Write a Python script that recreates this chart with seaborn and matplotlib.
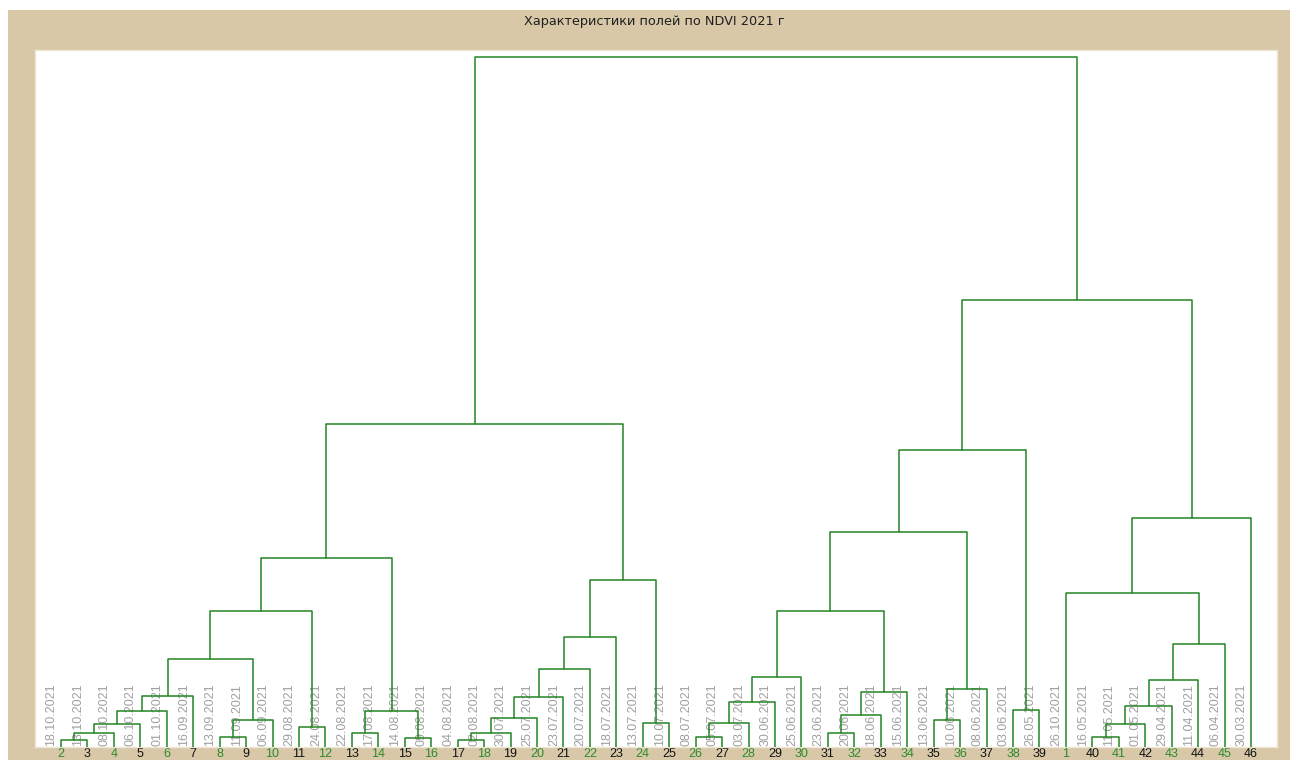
import matplotlib
matplotlib.use("Agg")
import matplotlib.pyplot as plt
from matplotlib.patches import Rectangle
import pandas as pd
import seaborn as sns

# Leaf order along the x axis (field numbers) and the NDVI survey date of each leaf
leaf_ids = [2, 3, 4, 5, 6, 7, 8, 9, 10, 11, 12, 13, 14, 15, 16, 17, 18, 19, 20,
            21, 22, 23, 24, 25, 26, 27, 28, 29, 30, 31, 32, 33, 34, 35, 36, 37,
            38, 39, 1, 40, 41, 42, 43, 44, 45, 46]
leaf_dates = ["18.10.2021", "13.10.2021", "08.10.2021", "06.10.2021", "01.10.2021",
              "16.09.2021", "13.09.2021", "11.09.2021", "06.09.2021", "29.08.2021",
              "24.08.2021", "22.08.2021", "17.08.2021", "14.08.2021", "09.08.2021",
              "04.08.2021", "02.08.2021", "30.07.2021", "25.07.2021", "23.07.2021",
              "20.07.2021", "18.07.2021", "13.07.2021", "10.07.2021", "08.07.2021",
              "05.07.2021", "03.07.2021", "30.06.2021", "25.06.2021", "23.06.2021",
              "20.06.2021", "18.06.2021", "15.06.2021", "13.06.2021", "10.06.2021",
              "08.06.2021", "03.06.2021", "26.05.2021", "26.10.2021", "16.05.2021",
              "11.05.2021", "01.05.2021", "29.04.2021", "11.04.2021", "06.04.2021",
              "30.03.2021"]

# Agglomeration steps: ints are leaves, "cK" is the cluster made at step K
merge_a = [2, "c1", "c2", "c3", "c4", 8, "c6", "c5", 11, "c8",
           13, 15, "c11", "c10", 17, "c15", "c16", "c17", "c18", "c19",
           24, "c20", "c14", 26, "c24", "c25", "c26", 31, "c28", "c29",
           "c27", 35, "c32", "c31", 38, "c34", 40, "c37", "c38", "c39",
           "c40", 1, "c42", "c36", "c23"]
merge_b = [3, 4, 5, 6, 7, 9, 10, "c7", 12, "c9",
           14, 16, "c12", "c13", 18, 19, 20, 21, 22, 23,
           25, "c21", "c22", 27, 28, 29, 30, 32, 33, 34,
           "c30", 36, 37, "c33", 39, "c35", 41, 42, 43, 44,
           45, "c41", 46, "c43", "c44"]
merge_h = [7.0, 14.3, 23.0, 36.3, 51.0, 10.3, 27.0, 87.7, 20.3, 136.0,
           14.3, 8.7, 36.3, 189.0, 7.0, 14.3, 28.7, 49.7, 77.7, 110.0,
           23.7, 167.0, 323.0, 10.3, 23.7, 45.3, 70.3, 14.3, 32.0, 55.3,
           136.0, 27.0, 57.7, 215.0, 37.0, 297.0, 10.3, 23.0, 41.0, 67.0,
           102.7, 154.0, 229.0, 447.0, 690.5]

LINE = "#248424"
BEIGE = "#d8c8a8"
GREEN_TXT = "#2c8a2c"

# Build the U-shaped links of the dendrogram
node_x = {leaf: i for i, leaf in enumerate(leaf_ids)}
node_h = {leaf: 0.0 for leaf in leaf_ids}
rows = []
for k, (a, b, h) in enumerate(zip(merge_a, merge_b, merge_h), start=1):
    xa, xb = node_x[a], node_x[b]
    for order, (x, y) in enumerate([(xa, node_h[a]), (xa, h), (xb, h), (xb, node_h[b])]):
        rows.append({"link": k, "order": order, "x": x, "y": y})
    node_x[f"c{k}"] = (xa + xb) / 2
    node_h[f"c{k}"] = h
links = pd.DataFrame(rows)

sns.set_style("white")
plt.rcParams["font.family"] = ["Liberation Sans", "DejaVu Sans"]

fig = plt.figure(figsize=(12.9, 7.6), dpi=100, facecolor="white")
fig.patches.append(Rectangle((8 / 1290, 0), 1 - 8 / 1290, 1 - 10 / 760,
                             transform=fig.transFigure, facecolor=BEIGE,
                             edgecolor="none", zorder=-5))

ax = fig.add_axes([35 / 1290, 1 - 747 / 760, (1277 - 35) / 1290, (747 - 50) / 760])
ax.set_facecolor("white")

sns.lineplot(data=links, x="x", y="y", units="link", estimator=None, sort=False,
             color=LINE, linewidth=1.1, ax=ax, zorder=3)

# Vertical date captions next to each leaf
for i, d in enumerate(leaf_dates):
    ax.text(i - 0.36, 1.0, d, rotation=90, ha="center", va="bottom",
            fontsize=9.0, color="#a0a0a0", zorder=1)

ax.set_xlim(-0.983, 45.983)
ax.set_ylim(0, 697)
ax.set_xlabel("")
ax.set_ylabel("")
ax.set_yticks([])
ax.set_xticks(range(len(leaf_ids)))
ax.set_xticklabels([str(v) for v in leaf_ids], fontsize=9.0)
for i, lbl in enumerate(ax.get_xticklabels()):
    lbl.set_color(GREEN_TXT if i % 2 == 0 else "#111111")
ax.tick_params(axis="x", direction="in", length=2.5, width=1.3,
               color="#303030", pad=0.8)
for s in ax.spines.values():
    s.set_color("#eee6d4")
    s.set_linewidth(1.0)

fig.text(654 / 1290, 1 - 22 / 760, "Характеристики полей по NDVI 2021 г",
         ha="center", va="center", fontsize=9.3, color="#202020",
         family=["DejaVu Sans"])

fig.savefig("out.png", dpi=100, facecolor=fig.get_facecolor())
